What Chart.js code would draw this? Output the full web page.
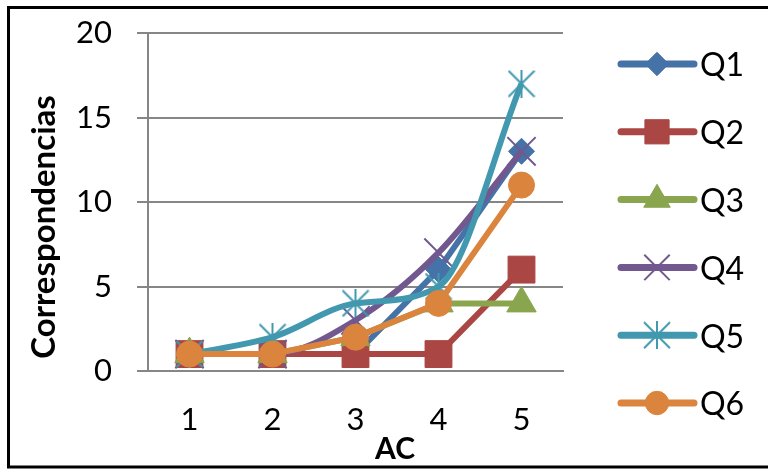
<!DOCTYPE html>
<html>
<head>
<meta charset="utf-8">
<script src="https://cdn.jsdelivr.net/npm/chart.js@4/dist/chart.umd.min.js"></script>
<style>
  body { margin: 0; background: #fff; }
  canvas { display: block; }
</style>
</head>
<body>
<canvas id="chart" width="768" height="469"></canvas>
<script>
const categories = ["1", "2", "3", "4", "5"];
const seriesNames = ["Q1", "Q2", "Q3", "Q4", "Q5", "Q6"];
const q1 = [1, 1, 1, 6, 13];
const q2 = [1, 1, 1, 1, 6];
const q3 = [1, 1, 2, 4, 4];
const q4 = [1, 1, 3, 7, 13];
const q5 = [1, 2, 4, 5, 17];
const q6 = [1, 1, 2, 4, 11];
const yTicks = [0, 5, 10, 15, 20];

const colors = ["#4572A7", "#AA4643", "#89A54E", "#71588F", "#4198AF", "#DB843D"];
const FONT = "Lato, 'Open Sans', sans-serif";

// excel style asterisk: an X plus a vertical bar
function asterisk(color, size) {
  const c = document.createElement("canvas");
  c.width = size;
  c.height = size;
  const g = c.getContext("2d");
  g.strokeStyle = color;
  g.lineWidth = 2;
  g.beginPath();
  g.moveTo(1, 1); g.lineTo(size - 1, size - 1);
  g.moveTo(size - 1, 1); g.lineTo(1, size - 1);
  g.moveTo(size / 2, 0); g.lineTo(size / 2, size);
  g.stroke();
  return c;
}

const markers = [
  { style: "rectRot", radius: 13, border: 1 },
  { style: "rect", radius: 19, border: 1 },
  { style: "triangle", radius: 17, border: 1 },
  { style: "crossRot", radius: 20, border: 2 },
  { style: asterisk(colors[4], 28), radius: 14, border: 2 },
  { style: "circle", radius: 13, border: 1 }
];
const smooth = [false, false, false, true, true, false];

const allData = [q1, q2, q3, q4, q5, q6];

const datasets = allData.map((vals, i) => ({
  label: seriesNames[i],
  data: vals,
  borderColor: colors[i],
  backgroundColor: colors[i],
  borderWidth: 6,
  cubicInterpolationMode: smooth[i] ? "monotone" : "default",
  tension: 0,
  pointStyle: markers[i].style,
  pointRadius: markers[i].radius,
  pointBorderWidth: markers[i].border,
  pointBackgroundColor: colors[i],
  pointBorderColor: colors[i],
  order: 5 - i
}));

const frameAndLegend = {
  id: "frameAndLegend",
  beforeDraw(chart) {
    const ctx = chart.ctx;
    ctx.save();
    ctx.fillStyle = "#fff";
    ctx.fillRect(0, 0, chart.width, chart.height);
    ctx.restore();
  },
  afterDraw(chart) {
    const ctx = chart.ctx;
    ctx.save();
    // legend: line + marker + name
    seriesNames.forEach((name, i) => {
      const y = 64 + i * 67.8;
      ctx.strokeStyle = colors[i];
      ctx.lineWidth = 7;
      ctx.lineCap = "round";
      ctx.beginPath();
      ctx.moveTo(621, y);
      ctx.lineTo(694, y);
      ctx.stroke();
      ctx.fillStyle = colors[i];
      ctx.lineWidth = markers[i].border;
      ctx.lineCap = "butt";
      Chart.helpers.drawPoint(ctx, {
        pointStyle: markers[i].style,
        radius: markers[i].radius * 0.9,
        rotation: 0,
        borderWidth: markers[i].border
      }, 657, y);
      ctx.fillStyle = "#000";
      ctx.font = "32px " + FONT;
      ctx.textAlign = "left";
      ctx.textBaseline = "middle";
      ctx.fillText(name, 700, y + 2);
    });
    ctx.fillStyle = "#000";
    ctx.textAlign = "center";
    ctx.textBaseline = "middle";
    // x axis title
    ctx.font = "bold 30px " + FONT;
    ctx.fillText("AC", 395, 449);
    // y axis title
    ctx.save();
    ctx.translate(44, 227);
    ctx.rotate(-Math.PI / 2);
    ctx.font = "bold 33px " + FONT;
    ctx.fillText("Correspondencias", 0, 0);
    ctx.restore();
    // outer frame
    ctx.strokeStyle = "#000";
    ctx.lineWidth = 3;
    ctx.strokeRect(8.5, 7.5, 800, 459.5);
    ctx.restore();
  }
};

new Chart(document.getElementById("chart"), {
  type: "line",
  data: { labels: categories, datasets: datasets },
  options: {
    responsive: false,
    animation: false,
    layout: { padding: { top: 33, right: 205, left: 0, bottom: 0 } },
    plugins: {
      legend: { display: false },
      tooltip: { enabled: false }
    },
    scales: {
      x: {
        offset: true,
        grid: { display: false },
        border: { display: true, color: "#868686", width: 2 },
        ticks: { color: "#000", font: { family: FONT, size: 31 }, padding: 22 },
        afterFit: (scale) => {
          scale.height = 98;
          scale.paddingLeft = 0;
          scale.paddingRight = 0;
        }
      },
      y: {
        min: 0,
        max: 20,
        afterBuildTicks: (scale) => { scale.ticks = yTicks.map((v) => ({ value: v })); },
        grid: { color: "#868686", lineWidth: 2, drawTicks: true, tickLength: 11 },
        border: { display: true, color: "#868686", width: 2 },
        ticks: { color: "#000", font: { family: FONT, size: 31 }, padding: 25 },
        afterFit: (scale) => {
          scale.width = 148;
          scale.paddingTop = 0;
          scale.paddingBottom = 0;
        }
      }
    }
  },
  plugins: [frameAndLegend]
});
</script>
</body>
</html>
